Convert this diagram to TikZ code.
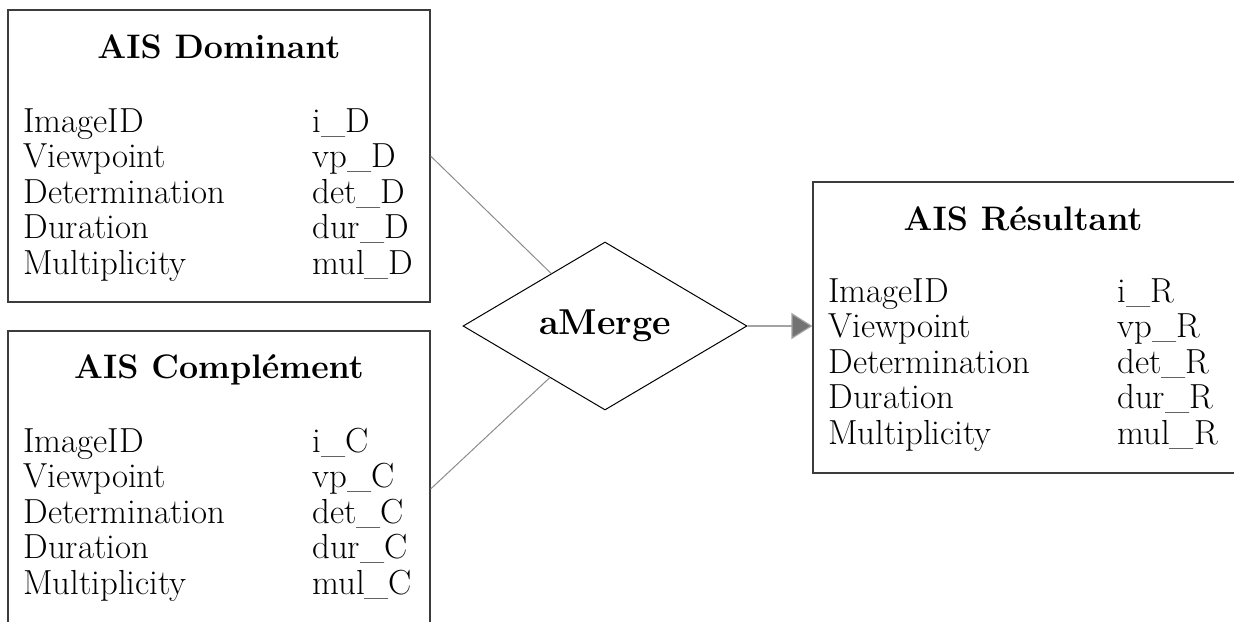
\documentclass[tikz,border=0pt]{standalone}
\usepackage{fontspec}
\usetikzlibrary{shapes.geometric,arrows.meta}

\definecolor{linkgray}{RGB}{140,140,140}
\definecolor{boxgray}{RGB}{60,60,60}

\newcommand{\aisfields}[1]{%
  \begin{tabular}[t]{@{}p{144.5pt}@{}l@{}}
    ImageID & i\_#1\\
    Viewpoint & vp\_#1\\
    Determination & det\_#1\\
    Duration & dur\_#1\\
    Multiplicity & mul\_#1
  \end{tabular}}

\tikzset{
  aisbox/.style={draw=boxgray, line width=0.6pt, rectangle, inner sep=0pt},
  aistitle/.style={anchor=base, inner sep=0pt, font=\fontsize{17}{20}\selectfont\bfseries},
  aisfield/.style={anchor=base west, inner sep=0pt, font=\fontsize{17.4}{17.75}\selectfont},
  mergebox/.style={diamond, draw=black, line width=0.5pt, minimum width=142pt, minimum height=84pt, inner sep=0pt, font=\fontsize{18}{20}\selectfont\bfseries},
  link/.style={draw=linkgray, line width=0.5pt},
  flow/.style={draw=linkgray!80, line width=0.6pt, -{Triangle[length=10.5pt,width=13pt,fill=gray!90!black]}}
}

\begin{document}
\begin{tikzpicture}[x=0.5pt,y=0.5pt,yscale=-1,xscale=1]
\clip (0,0) rectangle (1234,621); %picture window 1234 x 621

%Boxes
\node[aisbox, minimum width=211pt, minimum height=146pt] (dom) at (219,156) {};
\node[aisbox, minimum width=211pt, minimum height=158pt] (comp) at (219,489) {};
\node[aisbox, minimum width=213.5pt, minimum height=145.5pt] (res) at (1026.5,327.5) {};

%Titles
\node[aistitle] (domtitle) at (219,58) {AIS Dominant};
\node[aistitle] (comptitle) at (219,378) {AIS Complément};
\node[aistitle] (restitle) at (1023,230) {AIS Résultant};

%Fields
\node[aisfield] (domfields) at (23,132) {\aisfields{D}};
\node[aisfield] (compfields) at (23,452) {\aisfields{C}};
\node[aisfield] (resfields) at (828,302) {\aisfields{R}};

%Merge operator
\node[mergebox] (merge) at (605,326) {aMerge};

%Connectors
\draw[link] (dom.east) -- (merge);
\draw[link] (comp.east) -- (merge);
\draw[flow] (merge.east) -- (merge.east -| res.west);

\end{tikzpicture}
\end{document}
